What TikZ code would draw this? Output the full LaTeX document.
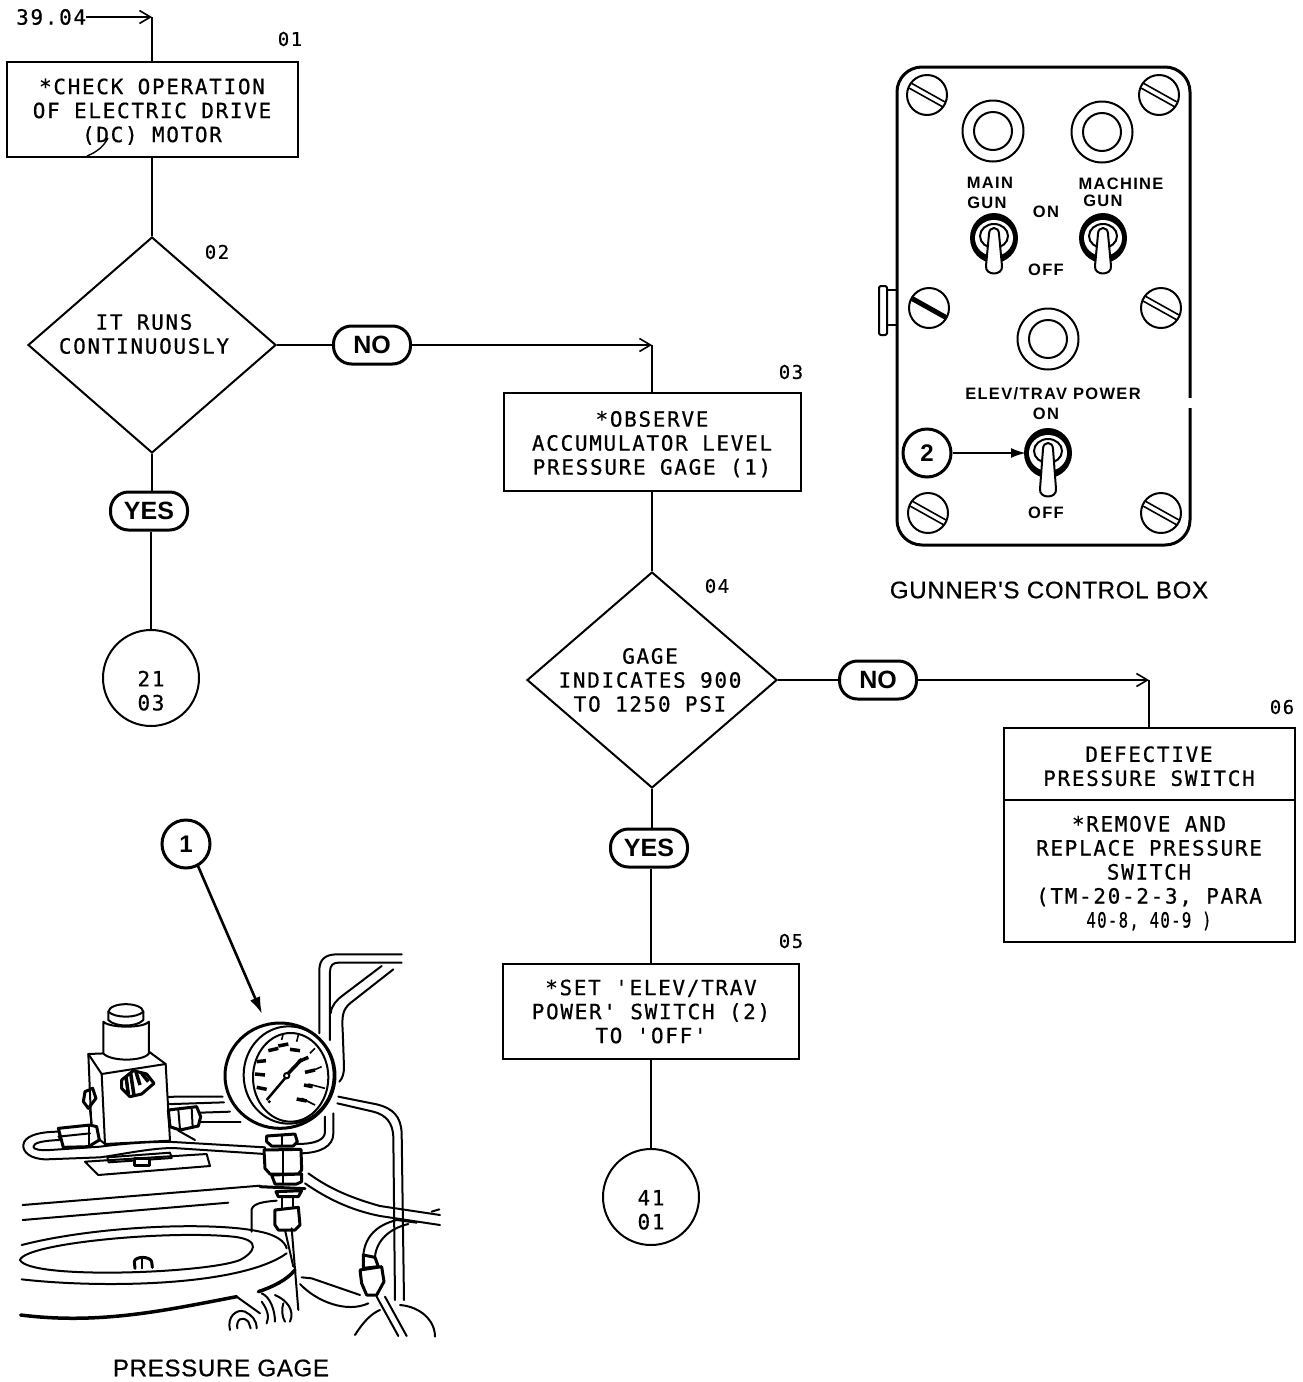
\documentclass[tikz,border=0pt]{standalone}
\usepackage{fontspec}
\setmainfont{Liberation Sans}
\newfontfamily\flowfont{DejaVu Sans Mono}[LetterSpace=8,RawFeature={embolden=0.6}]
\newfontfamily\capfont{Liberation Sans}[LetterSpace=3,RawFeature={embolden=0.6}]
\newfontfamily\panelfont{Liberation Sans Bold}[LetterSpace=8]
\newcommand{\lowertext}{\rule{0pt}{20pt}}
\usetikzlibrary{shapes.geometric,arrows.meta}
\tikzset{
  flowtext/.style={font=\flowfont\fontsize{21}{24}\selectfont,align=center,inner sep=0pt},
  tag/.style={font=\flowfont\fontsize{19}{19}\selectfont,inner sep=0pt},
  stepbox/.style={draw,line width=2pt,rectangle,inner sep=0pt,flowtext},
  decision/.style={draw,line width=2pt,diamond,inner sep=0pt,aspect=1.15},
  pill/.style={draw,line width=3pt,rectangle,rounded corners=18pt,minimum width=77pt,minimum height=38pt,inner sep=0pt,font=\bfseries\fontsize{25}{25}\selectfont},
  offpage/.style={draw,line width=2pt,circle,minimum size=96pt,inner sep=0pt,flowtext,fill=white},
  link/.style={line width=2pt},
  barb/.style={line width=2pt,-{Straight Barb[length=11pt,width=13pt,line width=1.6pt]}},
  callout/.style={draw,line width=3pt,circle,minimum size=48pt,inner sep=0pt,font=\bfseries\fontsize{24}{24}\selectfont,fill=white},
  pointer/.style={line width=2.6pt,-{Latex[length=17pt,width=11pt]}},
  caption/.style={font=\capfont\fontsize{24}{24}\selectfont,inner sep=0pt},
  paneltext/.style={font=\panelfont\fontsize{16.5}{16.5}\selectfont,inner sep=0pt},
  art/.style={line width=2pt,line cap=round,line join=round},
  heavy/.style={line width=3pt,line cap=round,line join=round},
}
\begin{document}
\begin{tikzpicture}[x=1pt,y=-1pt]
\path[fill=white] (0,0) rectangle (1302,1382);
\useasboundingbox (0,0) rectangle (1302,1382);

%--- flow nodes
\node[flowtext,anchor=west] (src) at (16,17) {39.04};
\coordinate (c0) at (152,17);
\node[stepbox,minimum width=291pt,minimum height=95pt] (b01) at (152,109.5) {\lowertext *CHECK OPERATION\\OF ELECTRIC DRIVE\\(DC) MOTOR};
\node[decision,minimum width=248pt,minimum height=216pt] (d02) at (152,345) {};
\node[flowtext] (d02t) at (144,334) {IT RUNS\\CONTINUOUSLY};
\node[pill] (no1) at (372,345) {NO};
\coordinate (c1) at (652,345);
\node[pill] (yes1) at (149,511) {YES};
\node[offpage] (c2103) at (151,678) {\\[17pt]21\\03};
\node[stepbox,minimum width=297pt,minimum height=98pt] (b03) at (652,442) {\lowertext *OBSERVE\\ACCUMULATOR LEVEL\\PRESSURE GAGE (1)};
\node[decision,minimum width=250pt,minimum height=216pt] (d04) at (652,680) {};
\node[flowtext] (d04t) at (650,680) {GAGE\\INDICATES 900\\TO 1250 PSI};
\node[pill] (no2) at (878,680) {NO};
\coordinate (c3) at (1149,680);
\node[pill] (yes2) at (649,848) {YES};
\node[stepbox,minimum width=296pt,minimum height=95pt] (b05) at (651,1011.5) {*SET 'ELEV/TRAV\\POWER' SWITCH (2)\\TO 'OFF'};
\node[offpage] (c4101) at (651,1197) {\\[17pt]41\\01};
\node[stepbox,minimum width=291pt,minimum height=72pt] (b06a) at (1149,764) {\lowertext DEFECTIVE\\PRESSURE SWITCH};
\node[stepbox,minimum width=291pt,minimum height=142pt] (b06b) at (1149,871) {\lowertext *REMOVE AND\\REPLACE PRESSURE\\SWITCH\\(TM-20-2-3, PARA\\\scalebox{.75}[1]{40-8, 40-9 )}};

\node[tag] (n01) at (290,39) {01};
\node[tag] (n02) at (217,252) {02};
\node[tag] (n03) at (791,372) {03};
\node[tag] (n04) at (717,586) {04};
\node[tag] (n05) at (791,941) {05};
\node[tag] (n06) at (1282,707) {06};

%--- connectors
\draw[barb] (src.east) -- (c0);
\draw[link] (c0) -- (b01.north);
\draw[link] (b01.south) -- (d02.north);
\draw[link] (d02.east) -- (no1.west);
\draw[barb] (no1.east) -- (c1);
\draw[link] (c1) -- (b03.north);
\draw[link] (d02.south) -- (d02.south |- yes1.north);
\draw[link] (yes1.south -| c2103.north) -- (c2103.north);
\draw[link] (b03.south) -- (d04.north);
\draw[link] (d04.east) -- (no2.west);
\draw[barb] (no2.east) -- (c3);
\draw[link] (c3) -- (b06a.north);
\draw[link] (d04.south) -- (d04.south |- yes2.north);
\draw[link] (yes2.south -| b05.north) -- (b05.north);
\draw[link] (b05.south) -- (c4101.north);
\draw[line width=1.4pt] (87,156) .. controls (97,152) and (104,146) .. (108,138);

%--- control box
\draw[art,fill=white] (887,290) -- (897,290) -- (897,325) -- (887,325) -- cycle;
\draw[art,fill=white,rounded corners=2pt] (879,286) rectangle (887,335);
\draw[heavy,rounded corners=25pt,fill=white] (897,67) rectangle (1190,545);
\draw[white,line width=4pt] (1190,398) -- (1190,408);
\foreach \px/\py in {927/95,1159/95,1161/308,928/513,1161/513}{
  \begin{scope}[shift={(\px,\py)}]
    \draw[art] (0,0) circle (20);
    \draw[line width=1.6pt] (-16,-12) -- (18,7);
    \draw[line width=1.6pt] (-18,-7) -- (16,12);
  \end{scope}
}
\begin{scope}[shift={(929,308)}]
  \draw[art] (0,0) circle (20);
  \draw[line width=5pt] (-17,-9.5) -- (17,9.5);
\end{scope}
\foreach \px/\py in {993/131,1102/132,1048/339}{
  \draw[art] (\px,\py) circle (30.5);
  \draw[art] (\px,\py) circle (19);
}
\foreach \px/\py/\tl in {994/238/36,1103/238/36,1048/453/44}{
  \begin{scope}[shift={(\px,\py)}]
    \fill (0,0) ellipse [x radius=24,y radius=25];
    \fill[white] (0,0) ellipse [x radius=19,y radius=18];
    \draw[line width=2pt] (0,-2) ellipse [x radius=14,y radius=12];
    \draw[art,fill=white] (-5,-4) .. controls (-5,-12) and (5,-12) .. (5,-4)
       -- (8,\tl-8) .. controls (9,\tl+2) and (-9,\tl+2) .. (-8,\tl-8) -- cycle;
  \end{scope}
}
\node[paneltext] (t1) at (990,183) {MAIN};
\node[paneltext] (t2) at (987,203) {GUN};
\node[paneltext] (t3) at (1121,184) {MACHINE};
\node[paneltext] (t4) at (1103,201) {GUN};
\node[paneltext] (t5) at (1046,212) {ON};
\node[paneltext] (t6) at (1046,270) {OFF};
\node[paneltext] (t7) at (1053,394) {ELEV/TRAV POWER};
\node[paneltext] (t8) at (1046,414) {ON};
\node[paneltext] (t9) at (1046,513) {OFF};
\coordinate (tog3) at (1026,453);
\node[callout] (co2) at (927,453) {2};
\draw[line width=2pt,-{Latex[length=15pt,width=10pt]}] (co2.east) -- (tog3);
\node[caption] (cap1) at (1049,590) {GUNNER'S CONTROL BOX};

%--- pressure gage scene (coordinates in a 3x grid)
\begin{scope}[shift={(0,920)},x=.33333pt,y=-.33333pt]
  \draw[art] (68,855) -- (780,797);
  \draw[art] (68,900) -- (685,848);
  \draw[art] (755,935) -- (755,868) .. controls (760,850) and (790,845) .. (830,842);
  \draw[art] (1205,103) -- (1010,103) .. controls (975,103) and (958,120) .. (958,150) -- (958,340);
  \draw[art] (1205,128) -- (1015,128) .. controls (1000,128) and (990,135) .. (990,155) -- (990,360);
  \draw[art] (1145,138) -- (1030,225) .. controls (1010,240) and (995,255) .. (992,280);
  \draw[art] (1180,148) -- (1050,250) .. controls (1030,268) and (1025,285) .. (1028,330) -- (1032,440) .. controls (1032,460) and (1028,475) .. (1018,485);
  \draw[art] (1015,530) -- (1130,553) .. controls (1180,565) and (1203,590) .. (1205,640) -- (1212,1140);
  \draw[art] (1012,550) -- (1120,575) .. controls (1160,585) and (1178,610) .. (1180,650) -- (1185,1140);
  \draw[art] (1000,580) -- (1000,640) .. controls (1000,680) and (960,698) .. (905,700);
  \draw[art] (975,590) -- (975,635) .. controls (975,660) and (945,672) .. (890,672);
  \draw[art] (430,522) .. controls (455,545) and (480,553) .. (520,552) -- (672,547);
  \draw[art] (450,512) .. controls (475,530) and (495,532) .. (525,530) -- (668,530);
  \draw[art] (600,578) -- (690,575);
  \draw[art] (600,605) -- (722,605);
  \draw[art,fill=white] (255,725) -- (295,765) -- (630,738) -- (620,702) -- cycle;
  \draw[art] (322,712) -- (510,698) -- (515,714) -- (326,727) -- cycle;
  \draw[heavy,fill=white] (405,715) rectangle (450,735);
  \draw[art,fill=white] (265,402) -- (447,395) -- (497,432) -- (510,662) -- (315,672) -- (275,640) -- cycle;
  \draw[art] (265,402) -- (305,462) -- (497,432);
  \draw[art] (305,462) -- (315,672);
  \draw[art,fill=white] (310,305) -- (310,400) .. controls (330,425) and (430,425) .. (447,400) -- (447,305)
     .. controls (430,325) and (330,325) .. (310,305) -- cycle;
  \draw[art,fill=white] (325,300) -- (325,275) .. controls (330,245) and (425,245) .. (430,275) -- (430,300)
     .. controls (410,322) and (345,322) .. (325,300) -- cycle;
  \draw[art] (325,275) .. controls (345,295) and (410,295) .. (430,275);
  \draw[heavy] (255,515) -- (278,505) -- (288,535) -- (265,565) -- (250,545) -- cycle;
  \draw[art] (270,570) -- (275,610);
  % ribbed fitting
  \draw[heavy,fill=white] (365,480) -- (400,452) -- (440,462) -- (462,490) -- (425,522) -- (390,530) -- (365,505) -- cycle;
  \foreach \ax/\ay/\bx/\by in {378/470/385/522,392/460/402/526,408/456/420/495,425/460/445/485}{
    \draw[line width=3.5pt] (\ax,\ay) -- (\bx,\by);
  }
  \draw[heavy,fill=white] (505,570) -- (590,560) -- (602,590) -- (595,618) -- (540,630) -- (510,620) -- cycle;
  \draw[art] (535,570) -- (540,628);
  \draw[art] (575,565) -- (578,622);
  \draw[art] (535,632) -- (585,660);
  \draw[art,fill=white] (795,702) -- (520,684) .. controls (450,684) and (350,706) .. (300,712) -- (140,718)
     .. controls (90,718) and (68,695) .. (70,675) .. controls (72,650) and (110,635) .. (178,635)
     -- (178,660) .. controls (130,662) and (100,668) .. (100,680) .. controls (100,688) and (120,692) .. (150,690)
     -- (300,680) .. controls (360,672) and (450,664) .. (520,666) -- (795,682) -- cycle;
  \draw[heavy,fill=white] (175,625) -- (270,615) -- (290,620) -- (298,660) -- (265,680) -- (190,682) -- cycle;
  \draw[art] (175,650) -- (270,640);
  \draw[art] (268,617) -- (268,678);
  \draw[heavy,fill=white] (840,467) ellipse [x radius=165,y radius=158];
  \draw[art] (866,465) ellipse [x radius=135,y radius=146];
  \draw[art,fill=white] (872,472) ellipse [x radius=113,y radius=133];
  \foreach \ax/\ay/\bx/\by in {850/340/845/360,895/345/890/365,945/385/930/400,965/440/925/457,975/505/925/492,945/555/905/535}{
    \draw[line width=1.6pt] (\ax,\ay) -- (\bx,\by);
  }
  \foreach \ax/\ay/\bx/\by in {805/392/835/385,835/378/865/372,870/388/900/392,895/425/925/412,915/457/945/450,912/495/938/500,890/537/920/543,770/425/798/422,765/462/795/465,770/502/800/508}{
    \draw[line width=3.5pt] (\ax,\ay) -- (\bx,\by);
  }
  \draw[line width=2.5pt] (800,540) -- (855,475);
  \draw[line width=3.5pt] (865,460) -- (905,418);
  \draw[art,fill=white] (860,467) circle (8);
  \fill (808,545) circle (5);
  \draw[heavy,fill=white] (800,648) -- (885,642) -- (892,665) -- (880,678) -- (815,678) -- (800,665) -- cycle;
  \draw[art] (845,645) -- (845,678);
  \draw[heavy,fill=white] (792,690) -- (903,688) -- (905,750) -- (895,762) -- (810,762) -- (795,745) -- cycle;
  \draw[art] (848,690) -- (848,762);
  \draw[heavy,fill=white] (815,765) -- (905,762) -- (905,785) -- (890,792) -- (825,792) -- cycle;
  \draw[art] (850,765) -- (850,790);
  \draw[heavy] (780,800) -- (915,806);
  \draw[heavy] (828,815) -- (905,812) -- (895,830) -- (835,830) -- cycle;
  \draw[art] (845,832) -- (845,868);
  \draw[art] (880,832) -- (880,868);
  \draw[heavy,fill=white] (825,870) -- (895,862) -- (900,915) -- (885,930) -- (835,930) -- (825,915) -- cycle;
  \draw[art] (855,930) -- (880,1040);
  \draw[art] (875,925) -- (895,1170);
  \draw[art] (925,760) .. controls (980,800) and (1040,830) .. (1140,858) -- (1320,885);
  \draw[art] (915,790) .. controls (980,835) and (1050,870) .. (1140,888) -- (1320,915);
  \draw[art] (1295,875) -- (1318,868);
  \draw[art] (65,975) .. controls (300,915) and (650,905) .. (780,935) .. controls (830,945) and (855,965) .. (860,985);
  \draw[art] (60,1020) .. controls (75,970) and (500,930) .. (700,950) .. controls (790,960) and (760,1000) .. (720,1020) .. controls (620,1060) and (90,1080) .. (60,1020) -- cycle;
  \draw[heavy] (405,1045) -- (403,1025) .. controls (405,1008) and (450,1008) .. (455,1025) -- (457,1042);
  \draw[art] (425,1015) -- (425,1045);
  \draw[art] (65,1078) .. controls (300,1105) and (720,1100) .. (860,1000);
  \draw[line width=3.5pt,line cap=round] (62,1185) .. controls (300,1215) and (500,1170) .. (710,1130);
  \draw[line width=3.5pt,line cap=round] (775,1115) .. controls (820,1100) and (860,1080) .. (885,1050);
  \draw[art] (710,1130) -- (780,1180);
  \draw[art] (690,1230) .. controls (680,1190) and (710,1165) .. (735,1175) .. controls (755,1185) and (770,1200) .. (770,1225);
  \draw[art] (712,1225) .. controls (708,1200) and (725,1185) .. (745,1205) -- (752,1225);
  \draw[art] (785,1120) .. controls (810,1130) and (825,1170) .. (825,1205);
  \draw[art] (800,1210) .. controls (810,1190) and (800,1165) .. (785,1145);
  \draw[art] (825,1125) .. controls (860,1140) and (885,1170) .. (870,1205);
  \draw[art] (850,1150) .. controls (845,1165) and (845,1190) .. (855,1205);
  \draw[art] (1250,908) -- (1190,900) .. controls (1130,915) and (1095,950) .. (1090,1005);
  \draw[art] (1225,912) .. controls (1170,925) and (1130,960) .. (1125,1010);
  \draw[heavy,fill=white] (1090,1005) -- (1125,1012) -- (1135,1040) -- (1090,1045) -- cycle;
  \draw[heavy,fill=white] (1080,1050) -- (1145,1040) -- (1152,1085) -- (1130,1125) -- (1100,1125) -- (1085,1090) -- cycle;
  \draw[art] (1130,1130) -- (1195,1248);
  \draw[art] (1155,1130) -- (1220,1248);
  \draw[art] (1065,1245) .. controls (1090,1205) and (1115,1180) .. (1140,1170);
  \draw[art] (1200,1155) .. controls (1260,1160) and (1305,1200) .. (1305,1250);
  \draw[art] (900,1092) .. controls (950,1145) and (1040,1180) .. (1105,1150);
  \draw[art] (905,1072) -- (935,1075) -- (1080,1125);
\end{scope}

\node[callout] (co1) at (186,844) {1};
\coordinate (gagept) at (262,1014);
\draw[pointer] (co1) ++(12,22) -- (gagept);
\node[caption] (cap2) at (221,1368) {PRESSURE GAGE};
\end{tikzpicture}
\end{document}
